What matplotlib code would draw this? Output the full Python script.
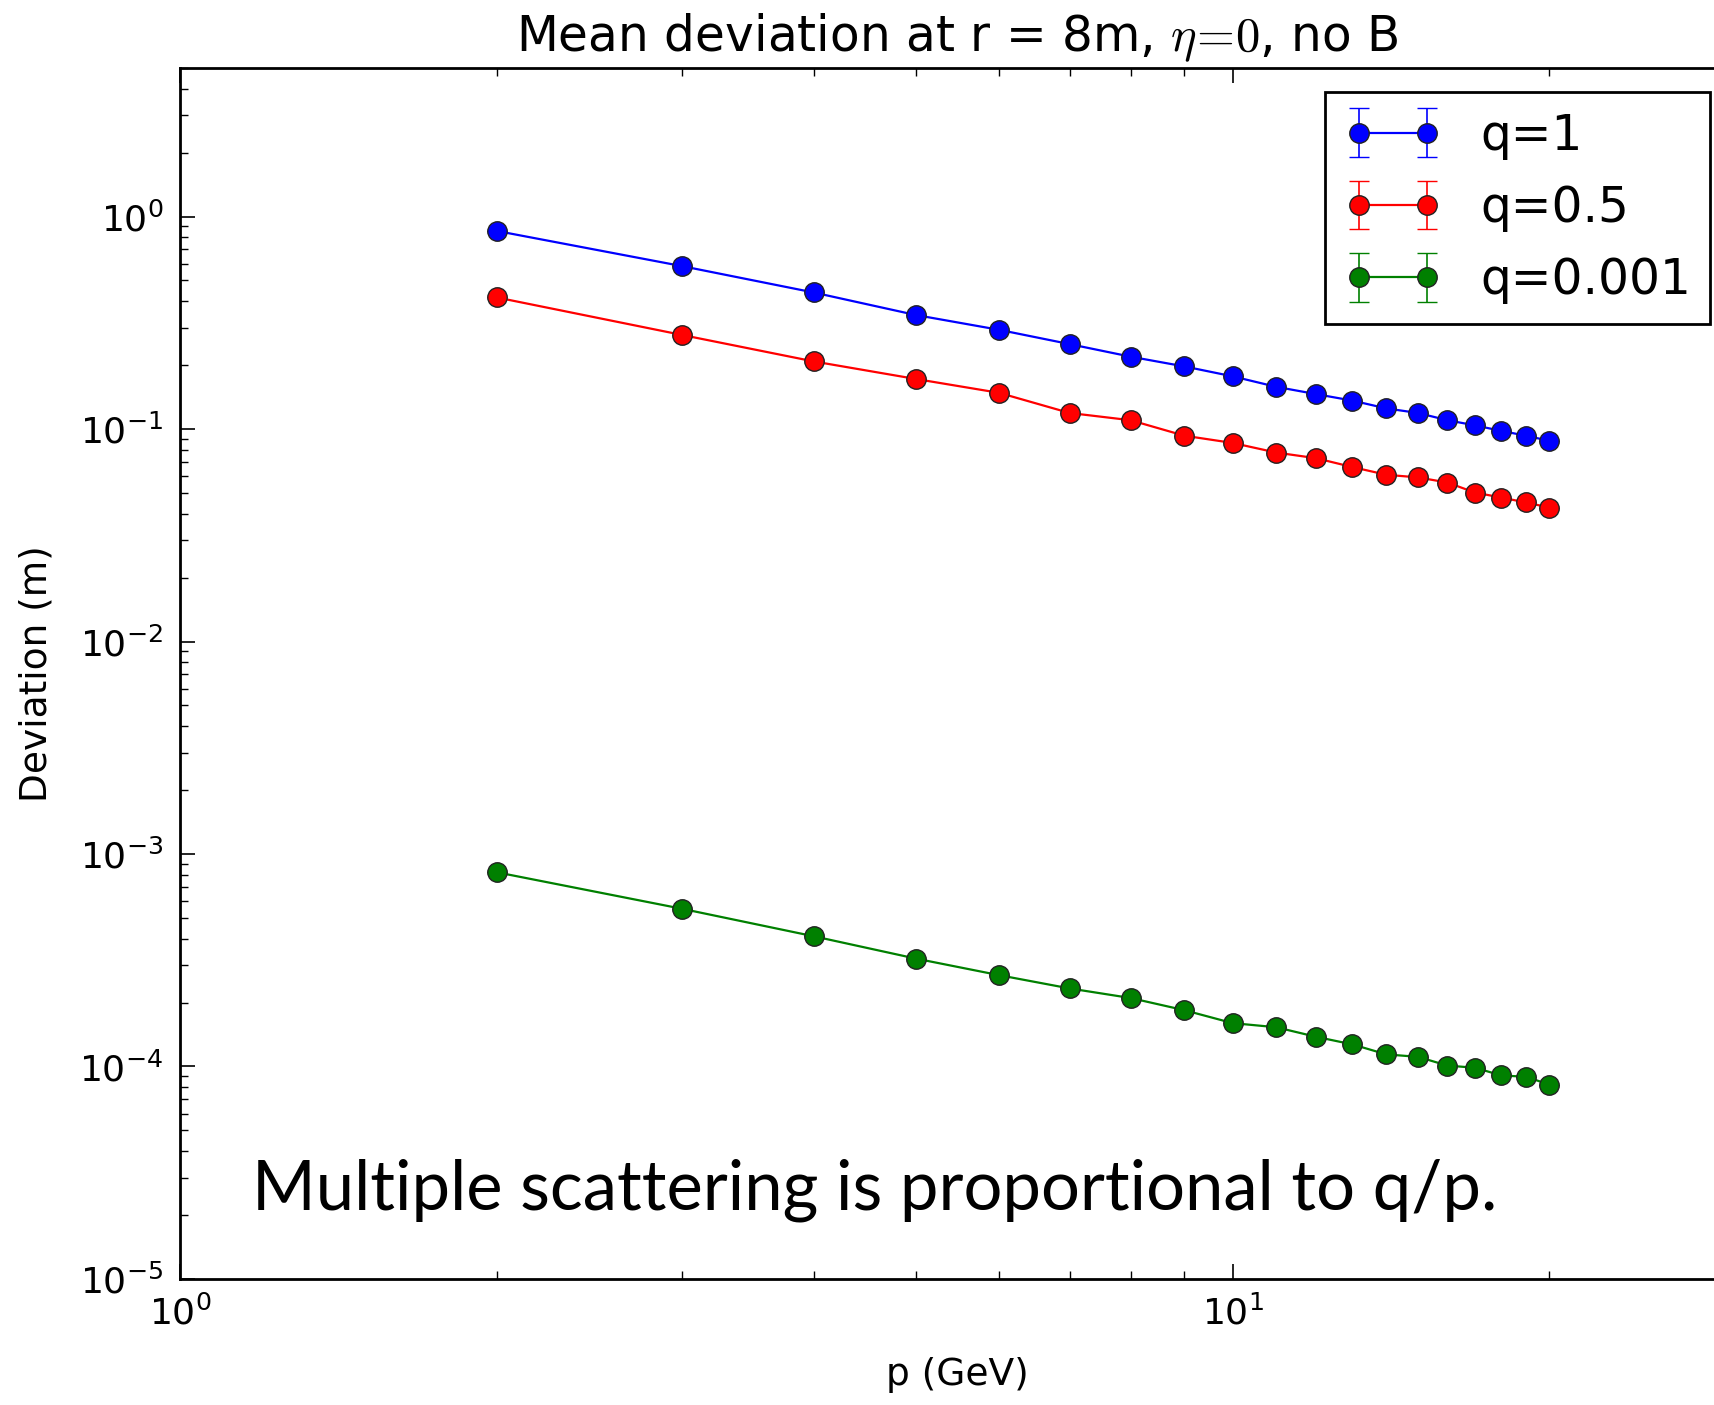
import numpy as np
import matplotlib
matplotlib.use("Agg")
import matplotlib.pyplot as plt

plt.rcParams['mathtext.fontset'] = 'cm'
plt.rcParams['font.family'] = 'DejaVu Sans'
plt.rcParams['axes.unicode_minus'] = False

# momentum (GeV)
p = [2, 3, 4, 5, 6, 7, 8, 9, 10, 11, 12, 13, 14, 15, 16, 17, 18, 19, 20]

# mean deviation (m)
dev_q1 = [0.855, 0.584, 0.439, 0.344, 0.293, 0.251, 0.219, 0.197, 0.177, 0.158,
          0.146, 0.136, 0.125, 0.119, 0.110, 0.104, 0.098, 0.093, 0.088]
dev_q05 = [0.416, 0.277, 0.208, 0.172, 0.148, 0.119, 0.110, 0.093, 0.086, 0.0775,
           0.0729, 0.0662, 0.0609, 0.0592, 0.0560, 0.0502, 0.0476, 0.0451, 0.0427]
dev_q0001 = [8.2e-4, 5.52e-4, 4.10e-4, 3.22e-4, 2.69e-4, 2.33e-4, 2.10e-4, 1.84e-4,
             1.60e-4, 1.53e-4, 1.38e-4, 1.27e-4, 1.14e-4, 1.11e-4, 1.01e-4, 9.86e-5,
             9.08e-5, 8.94e-5, 8.22e-5]
# error bars are hidden behind the markers
err_q1 = [0.0] * len(p)
err_q05 = [0.0] * len(p)
err_q0001 = [0.0] * len(p)

labels = ['q=1', 'q=0.5', 'q=0.001']

fig = plt.figure(figsize=(17.15, 14.05), dpi=100)
ax = fig.add_axes([0.1050, 0.0897, 0.9065, 0.8619])

for y, e, c, lab in [(dev_q1, err_q1, 'b', labels[0]),
                     (dev_q05, err_q05, 'r', labels[1]),
                     (dev_q0001, err_q0001, 'g', labels[2])]:
    ax.errorbar(p, y, yerr=e, fmt='o-', color=c, lw=1.6, ms=14, mec='#222222',
                mew=1.0, elinewidth=1.2, capsize=7, capthick=1.2, label=lab)

ax.set_xscale('log')
ax.set_yscale('log')
ax.set_xlim(1, 30)
ax.set_ylim(1e-5, 5)

ax.tick_params(which='both', direction='in', top=True, right=True, labelsize=26)
ax.tick_params(which='major', length=11, width=1.2, pad=12)
ax.tick_params(which='minor', length=6, width=1.0)
ax.tick_params(axis='y', which='major', pad=12)
for s in ax.spines.values():
    s.set_linewidth(2)

ax.set_title('Mean deviation at r = 8m, $\\eta\\!=\\!0$, no B', fontsize=35, pad=12)
ax.set_xlabel('p (GeV)', fontsize=27, labelpad=18)
ax.set_ylabel('Deviation (m)', fontsize=27, labelpad=18)

leg = ax.legend(loc='upper right', fontsize=35, numpoints=2, fancybox=False,
                framealpha=1, edgecolor='k', handlelength=2.0, borderpad=0.4,
                handletextpad=0.8, labelspacing=0.5)
leg.get_frame().set_linewidth(2)

fig.text(252 / 1715, (1405 - 1210) / 1405, 'Multiple scattering is proportional to q/p.',
         fontsize=49.5, family=['Lato', 'DejaVu Sans'], va='baseline', ha='left')

fig.savefig('out.png', dpi=100)
